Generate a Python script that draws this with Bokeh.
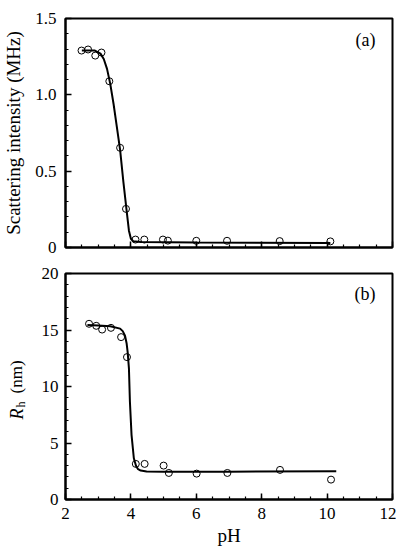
from bokeh.plotting import figure
from bokeh.layouts import column, row
from bokeh.models import Range1d, SingleIntervalTicker, Label, CustomLabelingPolicy
from bokeh.embed import file_html
from bokeh.resources import INLINE
import math

# ---------------- data ----------------
# (a) scattering intensity vs pH
ph_a = [2.49, 2.69, 2.91, 3.10, 3.34, 3.67, 3.85, 4.14, 4.41, 4.98, 5.13, 6.00, 6.94, 8.55, 10.10]
int_a = [1.290, 1.297, 1.257, 1.277, 1.089, 0.653, 0.253, 0.052, 0.052, 0.052, 0.045, 0.044, 0.044, 0.042, 0.040]
# fitted curve (a)
ph_a_fit = [2.50, 2.90, 3.07, 3.17, 3.27, 3.37, 3.47, 3.57, 3.67, 3.77, 3.87, 3.94, 4.00, 4.07, 4.30, 6.00, 10.10]
int_a_fit = [1.290, 1.290, 1.270, 1.235, 1.170, 1.070, 0.940, 0.790, 0.640, 0.430, 0.240, 0.110, 0.057, 0.041, 0.036, 0.033, 0.030]

# (b) hydrodynamic radius vs pH
ph_b = [2.72, 2.94, 3.12, 3.39, 3.70, 3.88, 4.15, 4.42, 5.00, 5.16, 6.01, 6.95, 8.56, 10.12]
rh_b = [15.55, 15.37, 15.04, 15.19, 14.37, 12.60, 3.15, 3.15, 3.00, 2.35, 2.29, 2.35, 2.62, 1.76]
# fitted curve (b)
ph_b_fit = [2.67, 3.00, 3.37, 3.67, 3.75, 3.82, 3.87, 3.90, 3.94, 3.97, 4.02, 4.09, 4.16, 4.22, 4.30, 4.48, 5.00, 7.00, 10.28]
rh_b_fit = [15.45, 15.40, 15.33, 15.12, 14.90, 14.50, 13.80, 13.06, 11.60, 8.65, 5.70, 3.65, 2.95, 2.68, 2.56, 2.47, 2.45, 2.46, 2.50]

y_a_ticks = [0, 0.5, 1.0, 1.5]
y_a_tick_labels = ["0", "0.5", "1.0", "1.5"]

FONT = "Liberation Serif"


def style(p):
    p.outline_line_color = "black"
    p.outline_line_width = 2
    p.xgrid.visible = False
    p.ygrid.visible = False
    p.background_fill_color = "white"
    p.border_fill_color = "white"
    for ax in (p.xaxis[0], p.yaxis[0]):
        ax.axis_line_width = 2
        ax.axis_line_color = "black"
        ax.major_tick_in = 6
        ax.major_tick_out = 0
        ax.minor_tick_in = 3
        ax.minor_tick_out = 0
        ax.major_tick_line_width = 1.5
        ax.minor_tick_line_width = 1.2
        ax.major_tick_line_color = "black"
        ax.minor_tick_line_color = "black"
        ax.major_label_text_font = FONT
        ax.major_label_text_font_size = "17px"
        ax.major_label_text_color = "black"
        ax.axis_label_text_font = FONT
        ax.axis_label_text_font_style = "normal"
        ax.axis_label_text_color = "black"
    p.xaxis[0].ticker = SingleIntervalTicker(interval=2, num_minor_ticks=4)


# ---------------- panel (a) ----------------
pa = figure(frame_width=327, frame_height=229, output_backend="svg", toolbar_location=None,
            x_range=Range1d(2, 12), y_range=Range1d(0, 1.5),
            min_border_left=65, min_border_right=4, min_border_top=18, min_border_bottom=12)
style(pa)
pa.yaxis[0].ticker = SingleIntervalTicker(interval=0.5, num_minor_ticks=5)
pa.yaxis[0].major_label_overrides = {t: s for t, s in zip(y_a_ticks, y_a_tick_labels)}
pa.yaxis[0].major_label_standoff = 9
pa.yaxis[0].axis_label = "Scattering intensity (MHz)"
pa.yaxis[0].axis_label_text_font_size = "19px"
pa.yaxis[0].axis_label_standoff = 8
# bottom axis of panel (a): ticks only, no labels
pa.xaxis[0].major_label_policy = CustomLabelingPolicy(
    code="for (const i of indices) { indices.unset(i) }; return indices")
pa.xaxis[0].major_label_standoff = 0

pa.line(ph_a_fit, int_a_fit, line_color="black", line_width=2)
pa.scatter(ph_a, int_a, marker="circle", size=7, fill_color=None, line_color="black", line_width=1)
pa.add_layout(Label(x=11.48, y=1.356, text="(a)", text_align="right", text_baseline="middle",
                    text_font=FONT, text_font_size="18px", text_color="black"))

# ---------------- panel (b) ----------------
pb = figure(frame_width=327, frame_height=226, output_backend="svg", toolbar_location=None,
            x_range=Range1d(2, 12), y_range=Range1d(0, 20),
            min_border_left=38, min_border_right=4, min_border_top=12, min_border_bottom=40)
style(pb)
pb.yaxis[0].ticker = SingleIntervalTicker(interval=5, num_minor_ticks=5)
pb.yaxis[0].major_label_standoff = 7
pb.xaxis[0].major_label_standoff = 8
pb.xaxis[0].axis_label = "pH"
pb.xaxis[0].axis_label_text_font_size = "19px"
pb.xaxis[0].axis_label_standoff = 3

pb.line(ph_b_fit, rh_b_fit, line_color="black", line_width=2)
pb.scatter(ph_b, rh_b, marker="circle", size=7, fill_color=None, line_color="black", line_width=1)
pb.add_layout(Label(x=11.48, y=18.15, text="(b)", text_align="right", text_baseline="middle",
                    text_font=FONT, text_font_size="18px", text_color="black"))

# narrow strip holding the y-axis label of panel (b): italic R, subscript h, (nm)
lab = figure(frame_width=27, frame_height=226, output_backend="svg", toolbar_location=None,
             x_range=Range1d(0, 27), y_range=pb.y_range, x_axis_type=None, y_axis_type=None,
             min_border_left=0, min_border_right=0, min_border_top=12, min_border_bottom=0)
lab.outline_line_color = None
lab.xgrid.visible = False
lab.ygrid.visible = False
lab.background_fill_color = "white"
lab.border_fill_color = "white"
rot = math.pi / 2
lab.add_layout(Label(x=16, y=7.08, text="R", angle=rot, text_align="left", text_baseline="middle",
                     text_font=FONT, text_font_style="italic", text_font_size="18px", text_color="black"))
lab.add_layout(Label(x=20.5, y=8.14, text="h", angle=rot, text_align="left", text_baseline="middle",
                     text_font=FONT, text_font_size="12px", text_color="black"))
lab.add_layout(Label(x=16, y=9.38, text="(nm)", angle=rot, text_align="left", text_baseline="middle",
                     text_font=FONT, text_font_size="17px", text_color="black"))

layout = column(pa, row(lab, pb))
open("out.html", "w").write(file_html(layout, INLINE))
